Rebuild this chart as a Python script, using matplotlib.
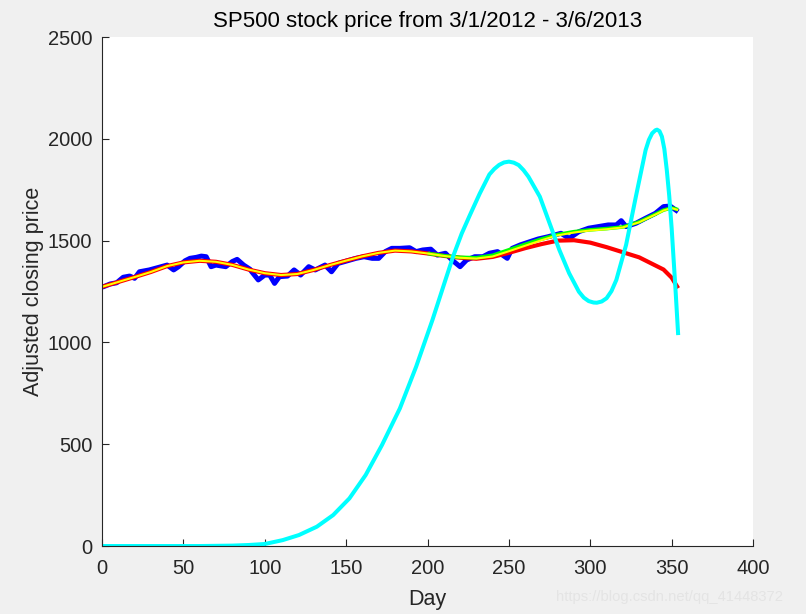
import matplotlib
matplotlib.use("Agg")
import matplotlib.pyplot as plt
from matplotlib.ticker import MultipleLocator

plt.rcParams['font.family'] = ['Liberation Sans', 'DejaVu Sans']

# adjusted closing price
price_days = [0, 1, 5, 9, 13, 17, 20, 23, 29, 35, 40, 44, 47, 51, 54, 58, 61, 64, 67, 70,
              76, 80, 83, 87, 91, 92, 96, 100, 103, 106, 109, 114, 118, 122, 127, 131, 137,
              141, 145, 149, 156, 161, 166, 170, 174, 178, 183, 189, 193, 197, 202, 206,
              211, 215, 220, 224, 229, 234, 238, 243, 249, 252, 257, 263, 268, 274, 282,
              287, 293, 299, 305, 311, 316, 319, 322, 328, 334, 340, 345, 349, 354]
price = [1272, 1274, 1287, 1293, 1320, 1326, 1315, 1347, 1356, 1369, 1380, 1356, 1372,
         1401, 1413, 1418, 1424, 1421, 1372, 1380, 1372, 1397, 1408, 1380, 1359, 1347,
         1307, 1331, 1331, 1290, 1323, 1326, 1356, 1331, 1372, 1356, 1380, 1347, 1388,
         1397, 1413, 1421, 1413, 1413, 1446, 1462, 1462, 1465, 1446, 1454, 1458, 1429,
         1438, 1405, 1372, 1405, 1421, 1421, 1438, 1446, 1413, 1462, 1479, 1495, 1508,
         1519, 1536, 1511, 1544, 1561, 1569, 1577, 1577, 1598, 1569, 1585, 1610, 1634,
         1667, 1670, 1642]

# fitted curves
fit_days = [0, 10, 20, 30, 40, 50, 60, 70, 80, 90, 100, 110, 120, 130, 140, 150, 160,
            170, 180, 190, 200, 210, 220, 230, 240, 250, 260, 270, 280, 290, 300, 310,
            320, 330, 340, 345, 350, 354]
red_fit = [1273, 1297, 1321, 1346, 1375, 1393, 1401, 1396, 1381, 1358, 1340, 1331, 1336,
           1356, 1380, 1402, 1423, 1440, 1451, 1447, 1437, 1425, 1416, 1411, 1420, 1440,
           1463, 1483, 1500, 1502, 1490, 1468, 1443, 1418, 1378, 1358, 1318, 1266]
yellow_fit = [1273, 1297, 1321, 1346, 1375, 1393, 1401, 1396, 1381, 1358, 1340, 1331, 1336,
              1356, 1380, 1402, 1423, 1440, 1451, 1447, 1437, 1425, 1416, 1412, 1422, 1448,
              1475, 1502, 1526, 1540, 1550, 1556, 1565, 1590, 1628, 1648, 1660, 1650]

green_days = [200, 210, 220, 230, 240, 250, 260, 270, 280, 290, 300, 310, 320, 330, 340,
              345, 350, 354]
green_fit = [1437, 1426, 1418, 1416, 1428, 1455, 1482, 1508, 1530, 1544, 1553, 1559, 1567,
             1592, 1630, 1650, 1661, 1652]

cyan_days = [0, 20, 40, 60, 80, 90, 100, 111, 121, 132, 142, 152, 162, 172, 183, 193, 203,
             211, 216, 221, 226, 232, 238, 241, 244, 247, 250, 253, 256, 259, 262, 265,
             269, 275, 281, 287, 293, 296, 299, 302, 304, 307, 310, 313, 316, 322, 328,
             334, 336, 338, 340, 341, 342.5, 344, 345.5, 347, 348.5, 350, 352.5, 354]
cyan_fit = [0, 0, 0, 0, 2, 5, 10, 29, 54, 95, 152, 234, 349, 496, 676, 881, 1110, 1307,
            1429, 1535, 1625, 1730, 1825, 1852, 1872, 1884, 1888, 1883, 1871, 1846, 1814,
            1772, 1716, 1585, 1454, 1340, 1249, 1220, 1203, 1196, 1195, 1201, 1217, 1252,
            1307, 1479, 1716, 1945, 1995, 2027, 2042, 2045, 2038, 2011, 1950, 1847, 1720,
            1560, 1241, 1036]

fig = plt.figure(figsize=(8.06, 6.14), dpi=100, facecolor='#f0f0f0')
ax = fig.add_axes([0.1266, 0.1107, 0.8077, 0.829])

line_kw = dict(solid_joinstyle='round', solid_capstyle='butt')
ax.plot(price_days, price, color='#0000ff', linewidth=3.6, **line_kw)
ax.plot(fit_days, red_fit, color='#ff0000', linewidth=3.0, **line_kw)
ax.plot(green_days, green_fit, color='#00ff00', linewidth=2.6, **line_kw)
ax.plot(fit_days, yellow_fit, color='#ffff00', linewidth=1.5, **line_kw)
ax.plot(cyan_days, cyan_fit, color='#00ffff', linewidth=2.9, **line_kw)

ax.set_xlim(0, 400)
ax.set_ylim(0, 2500)
ax.xaxis.set_major_locator(MultipleLocator(50))
ax.yaxis.set_major_locator(MultipleLocator(500))

for side in ['top', 'right']:
    ax.spines[side].set_visible(False)
for side in ['left', 'bottom']:
    ax.spines[side].set_color('#262626')
    ax.spines[side].set_linewidth(0.8)
ax.tick_params(direction='in', length=5, width=0.8, colors='#262626',
               labelsize=14.5)
ax.tick_params(axis='x', pad=9)
ax.tick_params(axis='y', pad=7)

ax.set_title("SP500 stock price from 3/1/2012 - 3/6/2013", fontsize=16, pad=7)
ax.set_xlabel("Day", fontsize=15.5, color='#262626', labelpad=8)
ax.set_ylabel("Adjusted closing price", fontsize=15.5, color='#262626', labelpad=3)

fig.text(0.972, 0.027, "https://blog.csdn.net/qq_41448372", ha='right', va='center',
         fontsize=10.6, color='#e4e4e4')

fig.savefig("out.png", dpi=100, facecolor=fig.get_facecolor())
